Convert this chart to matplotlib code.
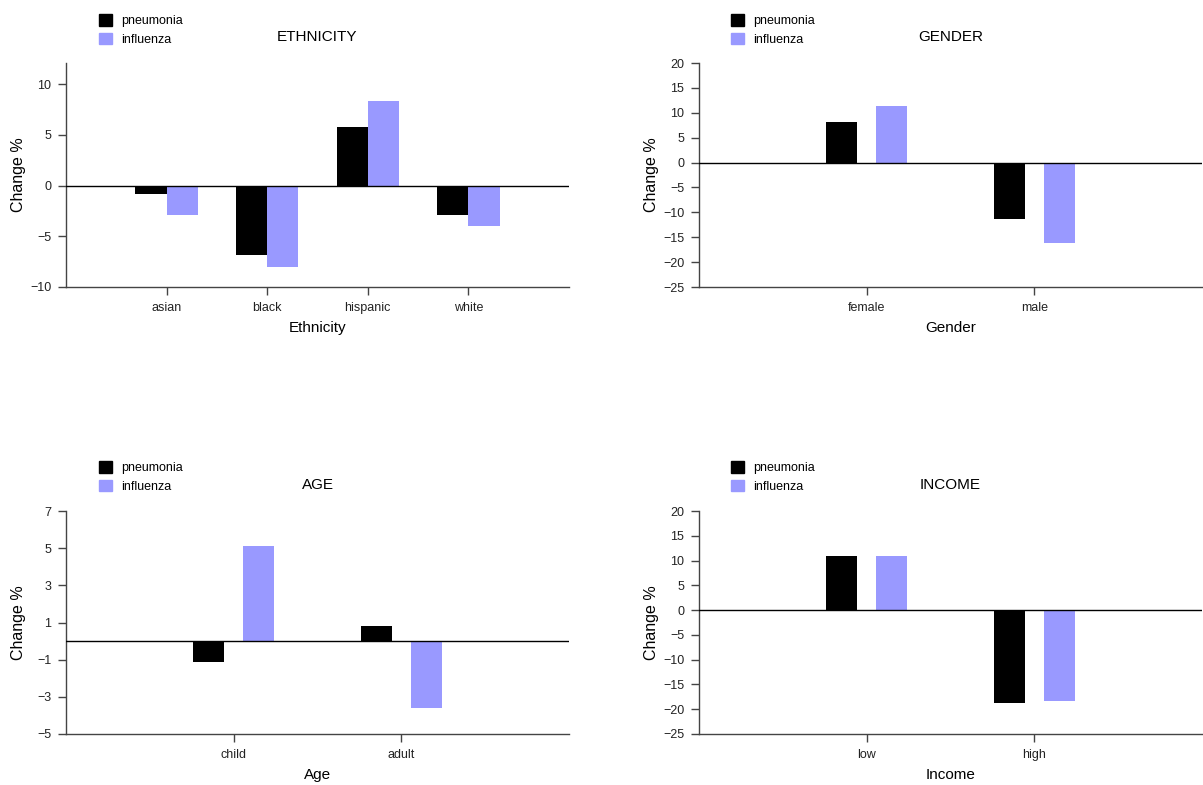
import numpy as np
import matplotlib
matplotlib.use("Agg")
import matplotlib.pyplot as plt
from matplotlib.patches import Patch

plt.rcParams['font.family'] = ['Liberation Sans', 'DejaVu Sans']

# data
eth_cats = ['asian', 'black', 'hispanic', 'white']
eth_pneu = [-0.8, -6.8, 5.8, -2.9]
eth_infl = [-2.9, -8.0, 8.4, -4.0]

gender_cats = ['female', 'male']
gender_pneu = [8.2, -11.4]
gender_infl = [11.4, -16.1]

age_cats = ['child', 'adult']
age_pneu = [-1.1, 0.8]
age_infl = [5.1, -3.6]

income_cats = ['low', 'high']
income_pneu = [11.0, -18.7]
income_infl = [11.0, -18.3]

series = ['pneumonia', 'influenza']
colors = ['black', '#9999ff']

W, H = 1203, 785
fig = plt.figure(figsize=(W / 100, H / 100), dpi=100)


def fx(px):
    return px / W


def fy(py):
    return 1 - py / H


def panel(rect, cats, pneu, infl, title, xlabel, yticks, ylim, width, offset, leg_xy):
    ax = fig.add_axes(rect)
    x = np.arange(len(cats))
    ax.bar(x - offset, pneu, width, color=colors[0], zorder=2)
    ax.bar(x + offset, infl, width, color=colors[1], zorder=2)
    ax.axhline(0, color='black', lw=1, zorder=3)
    ax.set_xlim(-1, len(cats))
    ax.set_ylim(*ylim)
    ax.set_yticks(yticks)
    ax.set_xticks(x)
    ax.set_xticklabels(cats)
    for s in ['top', 'right']:
        ax.spines[s].set_visible(False)
    for s in ['left', 'bottom']:
        ax.spines[s].set_color('#444444')
        ax.spines[s].set_linewidth(1)
    ax.tick_params(axis='both', length=5.5, width=1, color='#444444',
                   labelsize=9, labelcolor='#222222', pad=5)
    ax.set_ylabel('Change %', fontsize=11.5)
    ax.yaxis.set_label_coords(-0.08, 0.5)
    ax.set_xlabel(xlabel, fontsize=11, labelpad=5)
    ax.set_title(title, fontsize=11, pad=16)
    handles = [Patch(color=c, label=l) for c, l in zip(colors, series)]
    ax.legend(handles=handles, loc='upper left', bbox_to_anchor=leg_xy,
              bbox_transform=fig.transFigure, frameon=False, fontsize=9,
              borderpad=0, borderaxespad=0, handlelength=1.05, handleheight=1.05,
              handletextpad=0.75, labelspacing=0.45)
    return ax


top = [fy(287), fy(63) - fy(287)]
bot = [fy(734), fy(511) - fy(734)]
left = [fx(66), fx(569) - fx(66)]
right = [fx(699), fx(1202) - fx(699)]

panel([left[0], top[0], left[1], top[1]], eth_cats, eth_pneu, eth_infl,
      'ETHNICITY', 'Ethnicity', [-10, -5, 0, 5, 10], (-10, 12.1),
      0.31, 0.155, (fx(99), fy(14)))
panel([right[0], top[0], right[1], top[1]], gender_cats, gender_pneu, gender_infl,
      'GENDER', 'Gender', np.arange(-25, 21, 5), (-25, 20),
      0.185, 0.149, (fx(731), fy(14)))
panel([left[0], bot[0], left[1], bot[1]], age_cats, age_pneu, age_infl,
      'AGE', 'Age', [-5, -3, -1, 1, 3, 5, 7], (-5, 7),
      0.185, 0.149, (fx(99), fy(461)))
panel([right[0], bot[0], right[1], bot[1]], income_cats, income_pneu, income_infl,
      'INCOME', 'Income', np.arange(-25, 21, 5), (-25, 20),
      0.185, 0.149, (fx(731), fy(461)))

fig.savefig('out.png', dpi=100)
